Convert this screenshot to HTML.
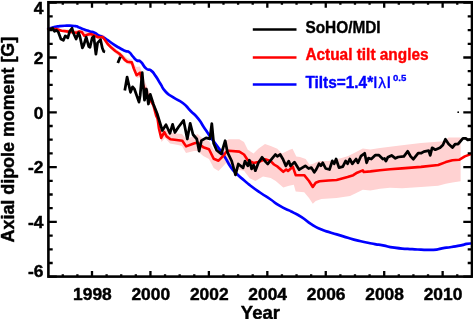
<!DOCTYPE html>
<html><head><meta charset="utf-8"><title>Axial dipole moment</title>
<style>
html,body{margin:0;padding:0;background:#fff;}
body{width:473px;height:319px;overflow:hidden;position:relative;font-family:"Liberation Sans",sans-serif;}
svg{position:absolute;left:0;top:0;display:block;will-change:transform;}
text{font-family:"Liberation Sans",sans-serif;font-weight:bold;}
</style></head><body>
<svg width="473" height="319" viewBox="0 0 473 319">
<rect x="0" y="0" width="473" height="319" fill="#ffffff"/>
<polygon points="48.0,28.5 80.0,30.0 95.0,33.5 99.0,34.0 104.0,35.0 107.0,40.0 115.0,48.0 122.0,53.5 127.0,58.0 132.0,59.5 134.0,64.0 136.0,67.0 140.0,66.5 142.5,73.0 145.0,82.0 150.0,93.0 154.0,101.0 158.0,114.0 162.0,128.0 166.0,130.0 172.0,133.0 182.0,134.0 186.0,139.0 194.0,136.0 197.6,134.0 203.3,139.0 209.0,141.0 213.7,150.0 218.5,153.0 223.3,146.0 226.1,141.0 228.8,139.3 239.3,139.3 244.0,142.1 247.8,149.7 253.5,153.5 258.3,148.8 265.0,144.0 270.7,146.0 277.3,148.8 282.0,153.5 289.7,149.7 292.5,148.8 296.3,156.4 300.0,157.1 305.7,159.0 309.5,164.7 313.0,163.8 319.0,161.0 328.5,161.0 338.0,159.0 347.6,156.2 355.2,152.4 362.8,148.6 370.4,149.5 380.0,148.0 390.0,146.7 402.0,145.3 421.0,143.0 443.9,141.2 448.6,137.4 460.6,137.4 460.6,181.3 452.4,182.5 445.8,183.8 438.2,185.7 421.0,187.0 402.0,188.2 390.0,187.8 380.0,188.8 370.4,190.4 362.8,189.7 355.2,193.5 350.0,196.1 336.6,198.0 321.4,199.0 315.7,201.0 312.8,203.8 309.0,198.0 304.2,192.3 295.7,191.4 293.8,184.7 289.0,185.7 283.3,187.6 275.7,181.0 270.7,178.0 263.0,176.4 255.4,181.1 249.7,178.3 244.0,170.7 230.7,168.8 226.1,163.0 223.3,166.0 218.5,171.0 213.7,168.0 209.0,159.0 203.3,156.0 197.6,151.0 194.0,151.0 186.0,153.0 182.0,146.0 178.0,145.0 170.0,143.5 165.0,138.0 161.5,142.0 158.0,125.0 154.0,110.0 150.0,100.0 145.0,89.0 141.0,77.0 137.0,78.0 134.0,71.0 132.0,65.0 127.0,64.0 122.0,59.0 115.0,53.0 108.0,46.0 104.0,39.0 95.0,38.5 80.0,33.5 48.0,29.7" fill="#ffd2d2"/>
<path d="M48.2,28.9 C49.7,28.5 49.4,28.5 52.6,27.6 C55.8,26.7 53.0,26.9 57.7,26.3 C62.4,25.7 60.7,25.8 66.6,25.7 C72.5,25.6 71.2,25.5 75.4,26.1 C79.6,26.7 76.3,26.5 79.3,27.6 C82.3,28.7 80.9,28.3 84.3,29.5 C87.7,30.7 86.0,30.1 89.4,31.2 C92.8,32.3 91.5,31.4 94.5,32.7 C97.5,34.0 95.6,33.8 98.3,35.2 C101.0,36.6 99.5,35.3 102.6,37.0 C105.7,38.7 103.9,37.6 107.7,40.2 C111.5,42.8 109.8,41.9 114.0,44.7 C118.2,47.5 116.6,46.4 120.4,48.5 C124.2,50.6 122.4,49.7 125.4,51.0 C128.4,52.3 126.8,50.4 129.3,52.3 C131.8,54.2 130.5,54.0 133.0,56.7 C135.5,59.4 134.3,58.8 136.9,60.5 C139.5,62.2 137.6,59.1 140.7,61.8 C143.8,64.5 142.7,65.6 146.1,68.5 C149.5,71.4 147.7,67.9 150.9,70.4 C154.1,72.9 152.5,71.6 155.7,76.1 C158.9,80.6 157.1,78.6 160.4,83.8 C163.7,89.0 161.4,87.2 165.7,91.7 C170.0,96.2 167.6,93.6 173.3,97.4 C179.0,101.2 177.1,98.6 182.8,103.0 C188.5,107.4 185.3,105.6 190.4,110.7 C195.5,115.8 193.6,112.9 198.0,118.3 C202.4,123.7 199.9,121.2 203.7,126.9 C207.5,132.6 205.1,129.2 209.4,135.4 C213.7,141.6 211.7,138.6 216.6,145.4 C221.5,152.2 219.5,148.7 224.2,155.9 C228.9,163.1 226.6,161.0 230.7,166.9 C234.8,172.8 232.0,169.1 236.4,173.5 C240.8,177.9 239.6,176.4 244.0,180.2 C248.4,184.0 244.4,180.9 249.7,185.0 C255.0,189.1 253.2,187.8 260.0,192.5 C266.8,197.2 263.5,194.6 270.0,199.0 C276.5,203.4 273.2,201.9 279.5,205.7 C285.8,209.5 284.5,208.2 289.0,210.4 C293.5,212.6 288.8,210.2 293.0,212.4 C297.2,214.6 295.3,213.0 301.6,217.1 C307.9,221.2 305.4,220.6 312.0,224.7 C318.6,228.8 315.2,226.8 321.5,229.5 C327.8,232.2 324.0,230.5 331.0,232.7 C338.0,234.9 334.9,233.8 342.5,236.1 C350.1,238.4 346.3,237.6 353.9,239.6 C361.5,241.6 358.3,240.7 365.3,242.2 C372.3,243.7 368.9,243.0 374.8,244.1 C380.7,245.2 376.5,244.2 383.0,245.4 C389.5,246.6 386.2,246.5 394.4,247.7 C402.6,248.9 398.8,248.3 407.7,248.9 C416.6,249.5 412.4,249.3 421.0,249.6 C429.6,249.9 426.4,250.2 433.4,249.8 C440.4,249.4 436.0,249.2 442.0,248.3 C448.0,247.4 445.2,248.0 451.5,247.0 C457.8,246.0 455.9,246.4 461.0,245.4 C466.1,244.4 463.2,244.5 466.7,243.9 C470.2,243.3 469.9,243.6 471.5,243.5" fill="none" stroke="#0000ff" stroke-width="2.7" stroke-linejoin="round" stroke-linecap="round"/>
<polyline points="48.2,29.1 56.4,29.1 61.5,30.8 66.6,31.4 70.4,32.0 76.7,32.7 79.3,31.4 81.8,32.0 84.3,35.9 87.5,34.6 90.7,34.0 93.8,35.2 98.3,37.3 102.6,37.0 105.1,40.2 107.7,44.0 111.5,47.8 115.3,51.0 119.1,53.5 122.3,56.7 124.8,59.9 127.3,61.8 131.8,62.4 133.8,68.5 136.6,75.2 140.0,72.7 141.4,78.0 143.0,85.0 145.5,91.0 148.5,97.5 151.5,102.0 153.3,105.0 156.1,115.4 157.6,118.8 159.0,128.8 161.2,138.0 164.3,132.1 166.6,136.4 170.4,139.2 174.7,139.7 182.3,140.7 186.1,146.4 193.8,143.5 197.6,142.6 203.3,147.3 209.0,149.2 213.7,158.8 218.5,160.7 223.3,155.9 226.1,152.1 228.8,150.7 239.3,151.6 244.0,154.5 247.8,160.2 253.5,163.0 258.3,162.0 265.0,159.2 270.7,161.1 274.0,164.5 277.6,166.7 283.3,171.8 286.2,169.5 288.0,171.0 292.8,166.7 295.7,175.2 304.2,175.2 309.0,181.0 312.8,187.0 315.7,182.8 319.5,181.3 328.5,180.5 336.6,180.0 347.6,177.1 353.3,175.2 357.1,172.7 362.8,170.4 363.7,172.0 370.4,171.4 379.9,170.2 390.0,169.3 402.0,168.4 421.0,166.9 438.2,165.0 445.8,162.1 452.4,160.2 459.1,159.8 464.8,156.4 471.5,153.9" fill="none" stroke="#ff0000" stroke-width="2.6" stroke-linejoin="round" stroke-linecap="round"/>
<g fill="none" stroke="#000" stroke-width="2.75" stroke-linejoin="round" stroke-linecap="butt">
<polyline points="48.2,29.5 50.7,29.1 52.6,28.2 54.5,31.4 56.4,30.1 58.3,32.0 60.9,39.0 63.4,40.3 65.3,35.9 67.8,37.8 69.7,31.4 72.0,28.2 73.5,33.3 76.1,39.0 78.6,32.7 79.9,36.5 82.4,47.9 83.7,45.4 86.2,37.1 88.8,46.6 90.0,47.3 92.2,37.8 93.8,36.5 95.9,54.2 97.6,42.8 100.5,39.6 102.3,48.0 103.7,51.5 105.1,51.9"/>
<polyline points="117.8,63.0 120.4,56.7"/>
<polyline points="124.8,90.4 127.1,77.1 130.5,92.3 132.6,86.8 134.5,89.2 139.0,102.1 140.2,95.2 142.2,72.7 144.5,100.2 146.4,89.0 148.4,104.0 150.3,94.3 153.3,104.0 157.1,113.5 160.0,123.0 162.3,130.5 166.0,124.7 169.9,133.3 172.6,124.3 174.9,132.5 178.5,127.0 183.6,120.4 187.3,139.0 190.2,123.3 193.0,134.5 196.8,139.0 199.1,151.1 201.4,140.7 206.1,137.8 209.9,138.8 211.8,123.6 213.7,143.5 216.6,150.2 221.3,154.0 225.2,140.7 227.5,152.4 231.7,161.0 235.5,174.8 238.3,164.0 243.1,167.8 245.0,161.1 247.8,165.9 249.4,160.2 251.6,168.8 253.5,165.0 255.4,170.7 258.3,163.0 262.1,157.3 265.9,162.1 267.8,164.0 271.6,159.2 275.4,154.5 277.3,156.4 280.2,154.5 283.0,159.2 285.9,165.9 288.7,161.1 290.6,165.9 294.4,162.1 299.2,169.7 305.3,165.8 308.6,168.5 311.4,167.6 314.3,172.3 316.2,169.5 319.0,163.8 320.9,165.7 322.8,162.8 325.7,168.5 329.5,169.5 332.3,160.9 334.2,163.8 336.1,159.0 339.0,167.6 342.8,166.6 345.7,160.9 347.6,163.8 349.8,159.0 352.3,163.8 356.1,159.0 358.0,162.8 360.9,156.2 364.7,153.3 366.6,162.8 368.5,158.1 371.3,159.0 375.2,155.2 379.0,155.2 382.8,159.0 384.5,158.5 385.9,161.1 387.8,157.3 391.6,155.4 395.4,158.3 398.2,157.0 403.9,156.4 407.7,151.3 410.6,156.4 413.4,159.2 418.2,153.2 421.0,153.2 423.9,151.6 428.7,150.7 430.2,155.4 432.1,147.8 435.3,149.7 440.0,147.8 442.9,145.0 445.4,139.3 448.6,144.0 452.4,147.5 455.3,144.0 458.1,144.0 462.9,138.3 465.8,138.3 467.7,139.8 471.5,139.3"/>
</g>
<rect x="48.4" y="2.25" width="423.6" height="274.35" fill="none" stroke="#000" stroke-width="2.6"/>
<path d="M62.78,276.6 v-2.4 M62.78,2.25 v2.4 M77.39,276.6 v-2.4 M77.39,2.25 v2.4 M92.00,276.6 v-5.5 M92.00,2.25 v5.5 M106.61,276.6 v-2.4 M106.61,2.25 v2.4 M121.22,276.6 v-2.4 M121.22,2.25 v2.4 M135.83,276.6 v-2.4 M135.83,2.25 v2.4 M150.44,276.6 v-5.5 M150.44,2.25 v5.5 M165.05,276.6 v-2.4 M165.05,2.25 v2.4 M179.66,276.6 v-2.4 M179.66,2.25 v2.4 M194.27,276.6 v-2.4 M194.27,2.25 v2.4 M208.88,276.6 v-5.5 M208.88,2.25 v5.5 M223.49,276.6 v-2.4 M223.49,2.25 v2.4 M238.10,276.6 v-2.4 M238.10,2.25 v2.4 M252.71,276.6 v-2.4 M252.71,2.25 v2.4 M267.32,276.6 v-5.5 M267.32,2.25 v5.5 M281.93,276.6 v-2.4 M281.93,2.25 v2.4 M296.54,276.6 v-2.4 M296.54,2.25 v2.4 M311.15,276.6 v-2.4 M311.15,2.25 v2.4 M325.76,276.6 v-5.5 M325.76,2.25 v5.5 M340.37,276.6 v-2.4 M340.37,2.25 v2.4 M354.98,276.6 v-2.4 M354.98,2.25 v2.4 M369.59,276.6 v-2.4 M369.59,2.25 v2.4 M384.20,276.6 v-5.5 M384.20,2.25 v5.5 M398.81,276.6 v-2.4 M398.81,2.25 v2.4 M413.42,276.6 v-2.4 M413.42,2.25 v2.4 M428.03,276.6 v-2.4 M428.03,2.25 v2.4 M442.64,276.6 v-5.5 M442.64,2.25 v5.5 M457.25,276.6 v-2.4 M457.25,2.25 v2.4 M48.4,2.70 h8.4 M472.0,2.70 h-8.7 M48.4,16.40 h4.3 M472.0,16.40 h-4.3 M48.4,30.10 h4.3 M472.0,30.10 h-4.3 M48.4,43.80 h4.3 M472.0,43.80 h-4.3 M48.4,57.50 h8.4 M472.0,57.50 h-8.7 M48.4,71.20 h4.3 M472.0,71.20 h-4.3 M48.4,84.90 h4.3 M472.0,84.90 h-4.3 M48.4,98.60 h4.3 M472.0,98.60 h-4.3 M48.4,112.30 h8.4 M472.0,112.30 h-8.7 M48.4,126.00 h4.3 M472.0,126.00 h-4.3 M48.4,139.70 h4.3 M472.0,139.70 h-4.3 M48.4,153.40 h4.3 M472.0,153.40 h-4.3 M48.4,167.10 h8.4 M472.0,167.10 h-8.7 M48.4,180.80 h4.3 M472.0,180.80 h-4.3 M48.4,194.50 h4.3 M472.0,194.50 h-4.3 M48.4,208.20 h4.3 M472.0,208.20 h-4.3 M48.4,221.90 h8.4 M472.0,221.90 h-8.7 M48.4,235.60 h4.3 M472.0,235.60 h-4.3 M48.4,249.30 h4.3 M472.0,249.30 h-4.3 M48.4,263.00 h4.3 M472.0,263.00 h-4.3 M48.4,276.70 h8.4 M472.0,276.70 h-8.7" fill="none" stroke="#000" stroke-width="2.3"/>
<circle cx="458.2" cy="112.2" r="0.9" fill="#000"/>
<g font-size="17.4px" fill="#000" stroke="#000" stroke-width="0.45" stroke-linejoin="round">
<text x="92.4" y="299.5" text-anchor="middle">1998</text><text x="150.8" y="299.5" text-anchor="middle">2000</text><text x="209.3" y="299.5" text-anchor="middle">2002</text><text x="267.7" y="299.5" text-anchor="middle">2004</text><text x="326.2" y="299.5" text-anchor="middle">2006</text><text x="384.6" y="299.5" text-anchor="middle">2008</text><text x="443.0" y="299.5" text-anchor="middle">2010</text>
<text x="43.4" y="14.0" text-anchor="end">4</text><text x="43.4" y="63.8" text-anchor="end">2</text><text x="43.4" y="118.6" text-anchor="end">0</text><text x="43.4" y="173.4" text-anchor="end">-2</text><text x="43.4" y="228.2" text-anchor="end">-4</text><text x="43.4" y="277.2" text-anchor="end">-6</text>
<text x="260.4" y="318.6" text-anchor="middle" font-size="18.5px">Year</text>
<text transform="translate(13.6,139.6) rotate(-90) scale(0.932,1)" text-anchor="middle" font-size="19.2px">Axial dipole moment [G]</text>
</g>
<g stroke-width="2.5" fill="none">
<path d="M252.8,29.6 H296.5" stroke="#000"/>
<path d="M252.8,57.4 H296.5" stroke="#ff0000"/>
<path d="M252.8,84.4 H296.5" stroke="#0000ff"/>
</g>
<g font-size="16.3px" stroke-width="0.4" stroke-linejoin="round">
<text transform="translate(305.4,33) scale(0.945,1)" fill="#000" stroke="#000">SoHO/MDI</text>
<text transform="translate(305.4,60.3) scale(0.945,1)" fill="#ff0000" stroke="#ff0000">Actual tilt angles</text>
<text transform="translate(305.4,88.1) scale(0.945,1)" fill="#0000ff" stroke="#0000ff">Tilts=1.4*</text>
<rect x="374.3" y="76.3" width="2.1" height="11.8" fill="#0000ff"/>
<rect x="387.7" y="76.3" width="2.1" height="11.8" fill="#0000ff"/>
<text x="378.3" y="88.1" fill="#0000ff" stroke="#0000ff" stroke-width="0.3" style="font-weight:normal" font-size="15.5px">λ</text>
<text x="392.9" y="80.7" fill="#0000ff" stroke="#0000ff" stroke-width="0.3" font-size="9.6px">0.5</text>
</g>
</svg>
</body></html>
